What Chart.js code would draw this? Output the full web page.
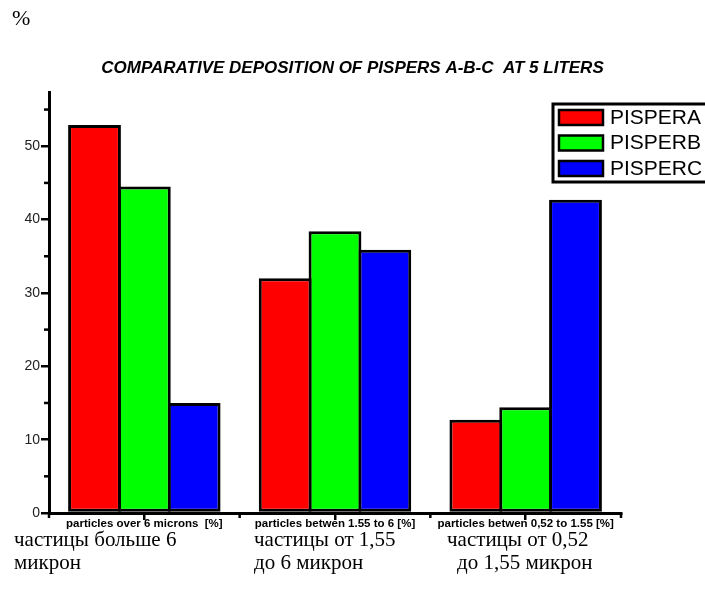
<!DOCTYPE html>
<html>
<head>
<meta charset="utf-8">
<script src="https://cdn.jsdelivr.net/npm/chart.js@4.4.0/dist/chart.umd.min.js"></script>
<style>
  body { margin: 0; background: #fff; }
  #wrap { position: relative; width: 705px; height: 602px; }
  #c { position: absolute; left: 0; top: 0; }
  .note { position: absolute; font-family: "Liberation Serif", "Times New Roman", serif; font-size: 21px; color: #000; line-height: 23px; white-space: pre; }
</style>
</head>
<body>
<div id="wrap">
  <canvas id="c" width="705" height="602"></canvas>
  <div class="note" style="left:12px; top:6px; font-size:22px;">%</div>
  <div class="note" style="left:14px; top:528px;">частицы больше 6</div>
  <div class="note" style="left:14px; top:551px;">микрон</div>
  <div class="note" style="left:254px; top:528px;">частицы от 1,55</div>
  <div class="note" style="left:254px; top:551px;">до 6 микрон</div>
  <div class="note" style="left:447px; top:528px;">частицы от 0,52</div>
  <div class="note" style="left:457px; top:551px;">до 1,55 микрон</div>
</div>
<script>
// categories and values
var categories = ['particles over 6 microns  [%]', 'particles betwen 1.55 to 6 [%]', 'particles betwen 0,52 to 1.55 [%]'];
var seriesNames = ['PISPERA', 'PISPERB', 'PISPERC'];
var pisperA = [52.9, 32.0, 12.7];
var pisperB = [44.5, 38.4, 14.4];
var pisperC = [15.0, 35.9, 42.7];
var seriesColors = ['#ff0000', '#00ff00', '#0000ff'];
var yMax = 57.3;
var yMinorTicks = [5, 15, 25, 35, 45, 55];

var series = [pisperA, pisperB, pisperC];
var datasets = series.map(function (vals, i) {
    return {
        label: seriesNames[i],
        data: vals,
        backgroundColor: seriesColors[i],
        borderColor: '#000',
        borderWidth: 3,
        borderSkipped: false,
        categoryPercentage: 0.784,
        barPercentage: 1.06
    };
});

// small ticks between the labelled ones, and the boxed legend
var extras = {
    id: 'extras',
    afterDraw: function (chart) {
        var ctx = chart.ctx;
        var x = chart.scales.x, y = chart.scales.y;
        ctx.save();
        ctx.strokeStyle = '#000';
        ctx.lineWidth = 2.5;
        yMinorTicks.forEach(function (v) {
            var py = y.getPixelForValue(v);
            ctx.beginPath();
            ctx.moveTo(x.left - 5, py);
            ctx.lineTo(x.left, py);
            ctx.stroke();
        });
        var n = categories.length;
        for (var i = 0; i <= n; i++) {
            var px = x.left + i * (x.right - x.left) / n;
            ctx.beginPath();
            ctx.moveTo(px, y.bottom);
            ctx.lineTo(px, y.bottom + 5);
            ctx.stroke();
        }

        // legend box
        ctx.lineWidth = 3;
        ctx.strokeRect(553, 104, 160, 78);
        ctx.font = '21px "Liberation Sans", Arial, sans-serif';
        ctx.textBaseline = 'middle';
        chart.data.datasets.forEach(function (ds, k) {
            var top = 110 + k * 25.5;
            ctx.fillStyle = ds.backgroundColor;
            ctx.fillRect(559, top, 44, 15);
            ctx.lineWidth = 2.5;
            ctx.strokeRect(559, top, 44, 15);
            ctx.fillStyle = '#000';
            ctx.fillText(ds.label, 610, top + 8);
        });
        ctx.restore();
    }
};

new Chart(document.getElementById('c'), {
    type: 'bar',
    data: { labels: categories, datasets: datasets },
    options: {
        responsive: false,
        animation: false,
        layout: { padding: 0 },
        plugins: {
            legend: { display: false },
            tooltip: { enabled: false },
            title: {
                display: true,
                text: 'COMPARATIVE DEPOSITION OF PISPERS A-B-C  AT 5 LITERS',
                color: '#000',
                font: { family: '"Liberation Sans", Arial, sans-serif', size: 17, weight: 'bold', style: 'italic', lineHeight: 1.2 },
                padding: { top: 58, bottom: 14.3 }
            }
        },
        scales: {
            x: {
                afterFit: function (s) { s.height = 89; },
                grid: { offset: false, drawOnChartArea: false, drawTicks: true, tickLength: 7, color: '#000', lineWidth: 2.5 },
                border: { color: '#000', width: 3 },
                ticks: {
                    color: '#000',
                    padding: -3,
                    maxRotation: 0,
                    autoSkip: false,
                    font: { family: '"Liberation Sans", Arial, sans-serif', size: 11.5, weight: 'bold' }
                }
            },
            y: {
                min: 0,
                max: yMax,
                afterFit: function (s) { s.width = 49; },
                grid: { drawOnChartArea: false, drawTicks: true, tickLength: 8, color: '#000', lineWidth: 2.5 },
                border: { color: '#000', width: 3 },
                ticks: {
                    stepSize: 10,
                    includeBounds: false,
                    color: '#222',
                    padding: 1,
                    font: { family: '"Liberation Sans", Arial, sans-serif', size: 14 }
                }
            },
            // empty right axis that keeps the space where the legend sits
            side: {
                position: 'right',
                afterFit: function (s) { s.width = 84; },
                grid: { display: false },
                border: { display: false },
                ticks: { display: false }
            }
        }
    },
    plugins: [extras]
});
</script>
</body>
</html>
